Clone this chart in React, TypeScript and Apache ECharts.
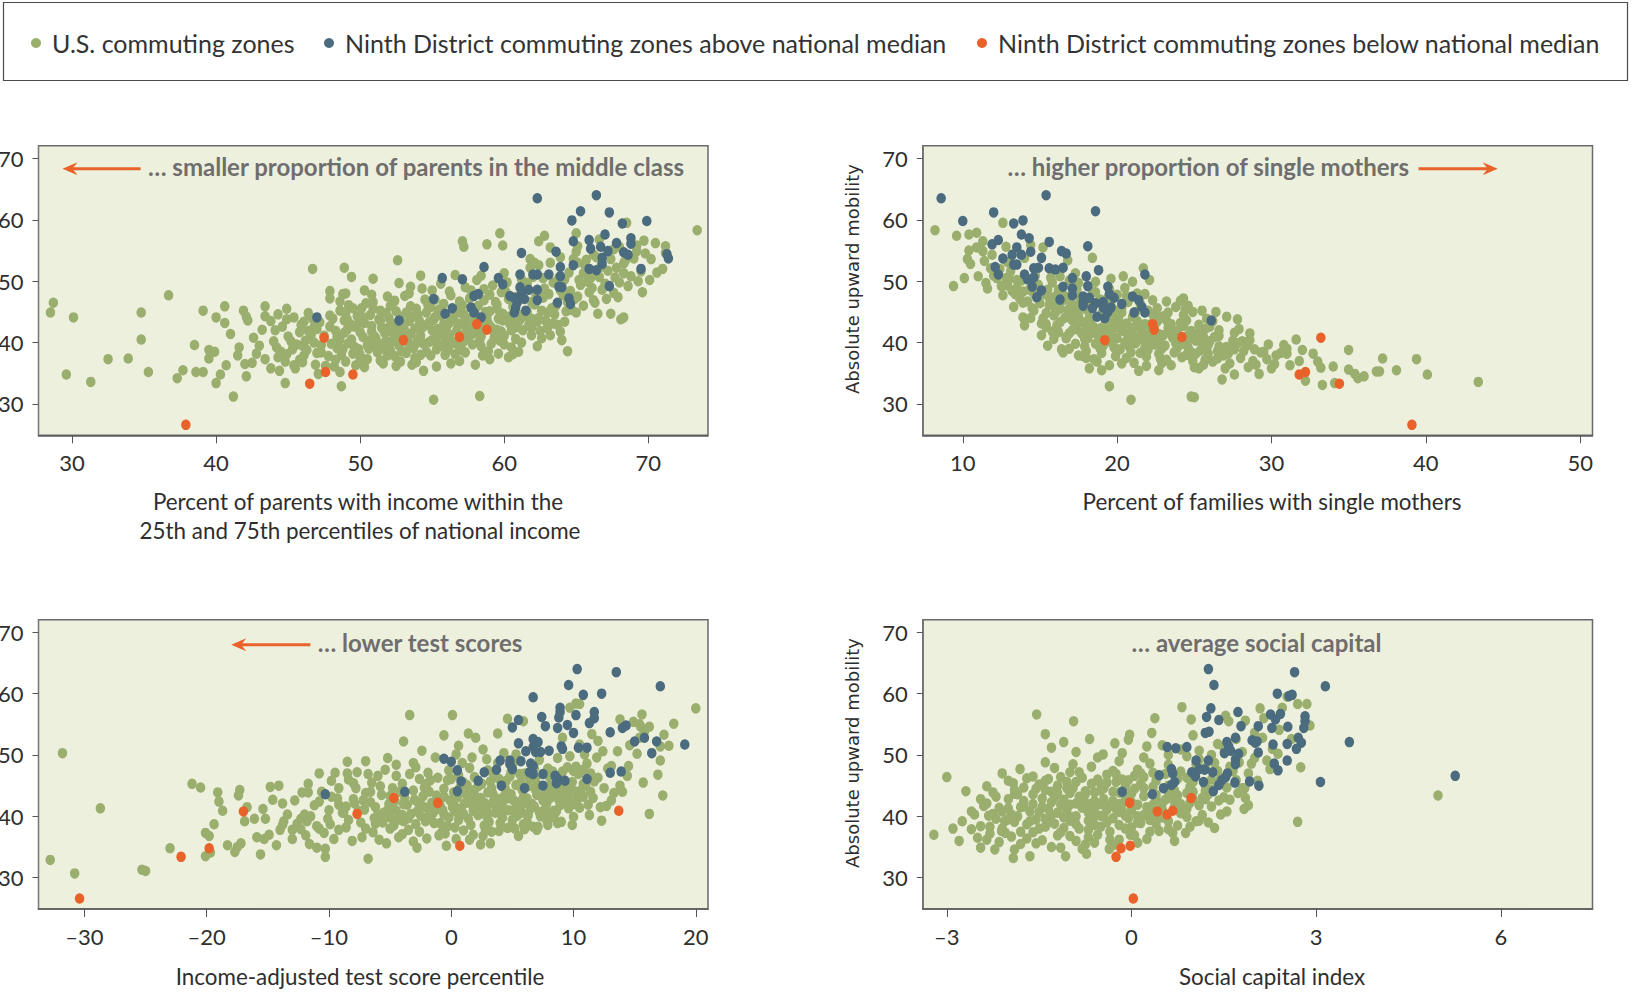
import React, { useEffect, useRef } from "react";
import * as echarts from "echarts";

const US = "U.S. commuting zones";
const ABOVE = "Ninth District commuting zones above national median";
const BELOW = "Ninth District commuting zones below national median";

const yTicks = [30, 40, 50, 60, 70];
const parentsTicks = [30, 40, 50, 60, 70];
const mothersTicks = [10, 20, 30, 40, 50];
const testTicks = [-30, -20, -10, 0, 10, 20];
const socialTicks = [-3, 0, 3, 6];

const parentsUS: number[][] = [
  [28.5,44.9],[28.7,46.5],[29.6,34.8],[30.1,44.1],[31.3,33.6],[32.5,37.3],[33.9,37.4],[34.8,44.9],[34.8,40.5],[35.3,35.2],[36.7,47.7],[37.3,34.2],[37.7,35.5],[38.5,39.6],[38.6,35.2],[39.1,45.2],[39.1,35.2],[39.5,38.8],[39.5,37.4],[39.9,38.5],[40.0,44.1],[40.0,33.4],[40.6,45.9],[40.6,43.2],[40.3,34.8],[40.7,36.3],[41.2,31.2],[41.5,37.9],[41.9,45.2],[42.1,44.2],[42.2,43.6],[42.0,36.5],[42.1,34.5],[42.5,36.7],[42.8,38.2],[43.4,45.9],[43.4,44.3],[43.2,42.1],[43.4,37.3],[43.8,43.5],[44.1,42.0],[44.3,44.6],[44.9,45.5],[44.9,43.8],[45.4,44.1],[44.2,39.2],[44.3,37.6],[43.8,35.8],[44.4,35.4],[44.8,33.4],[45.4,36.3],[46.1,43.4],[46.4,41.9],[46.0,39.5],[46.7,52.0],[47.9,48.4],[47.9,47.2],[48.9,52.2],[49.4,50.7],[48.8,47.9],[49.0,48.0],[48.6,35.2],[48.7,32.9],[48.6,45.2],[50.3,48.5],[50.8,47.8],[50.9,50.4],[52.6,53.4],[52.7,49.7],[53.5,49.1],[54.2,50.9],[54.3,48.8],[54.4,35.4],[55.1,30.7],[57.1,56.5],[57.2,55.6],[58.3,31.3],[58.8,56.0],[59.7,57.8],[59.9,55.8],[59.0,37.3],[60.3,37.6],[60.5,39.2],[60.0,39.7],[62.8,57.4],[62.4,56.5],[63.2,55.5],[62.4,52.6],[61.8,53.6],[64.0,40.4],[64.4,38.6],[63.2,41.2],[61.9,41.2],[61.9,42.4],[65.0,57.8],[65.0,54.8],[65.0,44.9],[65.2,50.2],[66.5,44.7],[66.3,46.5],[67.1,47.1],[67.4,44.7],[68.1,43.8],[68.3,44.1],[68.5,59.5],[69.7,56.6],[69.2,54.9],[69.0,53.7],[69.6,48.2],[70.1,50.2],[71.0,52.0],[71.2,55.7],[71.2,54.6],[73.4,58.3],[68.3,52.9],[67.7,50.6],[67.8,52.2],[68.3,51.3],[65.9,48.2],[65.7,53.5],[66.2,54.3],
  [44.5,38.5],[45.2,40.2],[45.8,37.2],[46.3,38.8],[46.9,36.4],[47.3,39.6],[47.8,37.8],[45.5,35.8],[46.6,41.3],[47.9,42.6],[44.8,36.9],[48.2,36.1],[48.4,39.1],[47.1,34.9],[45.9,42.9],
  [48.6,40.4],[49.1,42.1],[49.5,38.2],[49.8,44.3],[50.2,40.9],[50.5,37.3],[50.8,42.7],[51.1,39.4],[51.4,45.2],[51.7,41.6],[51.9,37.9],[49.2,46.1],[50.1,45.6],[48.9,43.6],[50.6,39.0],[51.3,43.8],[49.7,36.3],[51.6,36.6],[48.7,38.0],[50.9,46.6],[51.0,41.0],[49.4,40.5],[50.3,43.2],[52.0,44.0],
  [52.3,40.2],[52.6,42.5],[52.9,38.6],[53.2,44.9],[53.5,41.4],[53.8,37.5],[54.1,43.6],[54.4,39.8],[54.7,46.2],[55.0,42.0],[55.3,38.9],[55.6,44.4],[55.9,40.7],[52.4,46.8],[53.1,47.6],[54.2,41.1],[55.2,47.0],[53.6,36.4],[52.8,36.9],[54.9,37.9],[55.8,43.0],[53.9,45.5],[52.1,38.7],[54.6,44.9],
  [56.2,41.3],[56.5,43.8],[56.8,39.6],[57.1,46.1],[57.4,42.4],[57.7,48.5],[58.0,44.6],[58.3,40.3],[58.6,46.9],[58.9,43.1],[59.2,49.3],[59.5,45.5],[59.8,41.8],[56.3,47.7],[57.3,38.4],[58.1,50.2],[59.0,47.8],[56.9,44.9],[59.6,43.9],[56.1,38.8],[57.8,41.4],[58.5,37.9],[59.3,40.7],
  [60.3,44.2],[60.6,46.8],[60.9,42.5],[61.3,48.9],[61.6,45.0],[62.0,50.7],[62.3,43.4],[62.7,47.3],[63.0,44.9],[63.4,49.8],[63.7,42.9],[64.1,47.7],[64.5,51.4],[60.2,49.8],[61.8,52.2],[62.5,41.9],[63.2,53.0],[64.3,45.1],[60.8,40.6],[61.1,43.7],
  [65.3,49.4],[65.6,52.6],[66.0,50.5],[66.4,53.9],[66.8,48.6],[67.2,51.7],[67.6,55.2],[68.0,49.8],[68.4,53.3],[68.8,50.8],[69.2,55.8],[65.1,55.7],[66.2,46.9],[67.9,47.4],[69.5,51.6],[70.2,53.6],[70.5,56.2],[66.6,56.8],[64.8,53.6],[67.4,53.6],
  [47.5,41.1],[48.1,43.9],[48.9,41.6],[49.6,39.3],[50.0,41.7],[50.7,44.5],[51.2,38.4],[51.8,40.3],[52.2,43.1],[52.7,39.5],[53.0,41.8],[53.4,43.5],[53.7,39.1],[54.0,40.6],[54.5,42.8],[54.8,40.1],[55.1,43.7],[55.4,41.2],[55.7,39.5],[56.0,42.6],[56.4,40.2],[56.7,45.3],[57.0,43.1],[57.5,40.9],[57.9,45.6],[58.2,42.1],[58.8,44.0],[59.1,42.5],[59.4,46.6],[59.9,44.7],[60.4,43.0],[60.7,45.4],[61.0,47.6],[61.5,44.3],[62.1,46.2],[62.6,45.2],[63.1,47.9],[63.6,46.0],[64.0,49.1],[64.6,48.4],[49.9,38.9],[51.5,42.4],[53.3,40.6],[54.9,45.8],[56.6,38.1],[58.4,39.4],[46.2,40.3],[47.0,38.3],[48.3,37.2],[52.5,45.1],[50.4,46.4],[55.5,45.4],[57.6,47.2],[60.1,48.3],[53.8,42.3],[51.9,41.9],[49.3,43.0],[46.8,42.5],[45.0,41.0],[56.3,36.6],
  [46.0,36.8],[47.6,36.2],[49.0,36.9],[50.3,36.0],[51.4,37.1],[52.5,36.2],[53.9,36.8],[55.3,36.1],[56.9,37.0],[58.0,36.4],[59.6,38.2],[61.0,38.5],
  [44.9,38.1],[46.1,37.9],[47.3,38.4],[48.8,38.9],[50.0,38.0],[51.5,39.0],[52.4,37.8],[53.2,38.3],[54.6,38.5],[55.9,38.0],[57.1,38.7],[58.9,38.6],[60.6,38.1],[62.3,39.4],
  [45.6,39.7],[46.8,40.0],[48.0,39.8],[49.2,39.9],[50.6,40.3],[51.6,39.8],[52.6,40.9],[53.9,39.9],[55.0,40.4],[56.2,39.5],[57.2,40.2],[58.4,41.0],[59.7,40.3],[61.2,40.0],[62.6,40.7],[63.9,41.8],
  [44.6,42.6],[45.8,41.7],[47.0,42.2],[48.3,41.9],[49.6,42.6],[50.8,41.8],[52.0,42.5],[53.1,42.0],[54.3,42.4],[55.4,42.2],[56.7,41.9],[57.9,42.6],[59.3,41.7],[60.5,42.0],[61.7,42.8],[63.0,42.3],[64.2,43.4],
  [46.7,43.9],[47.9,44.4],[49.1,43.8],[50.2,44.1],[51.4,43.5],[52.8,44.2],[54.0,44.6],[55.2,44.1],[56.4,44.3],[57.5,43.9],[58.7,45.0],[59.9,43.6],[61.1,44.5],[62.4,44.0],[63.5,44.6],[64.7,45.3],
  [49.5,45.6],[50.9,45.5],[52.1,46.0],[53.5,45.9],[54.5,47.0],[55.8,46.3],[56.9,46.7],[58.2,46.0],[59.5,46.2],[60.6,45.9],[61.9,46.6],[63.3,45.6],[64.4,46.6],[65.5,46.0],
  [51.9,47.5],[53.4,48.0],[55.0,48.5],[56.2,48.3],[57.3,49.0],[58.6,48.7],[59.8,48.2],[61.6,49.7],[62.8,48.8],[63.9,48.5],[65.1,47.5],[66.1,48.9],[67.0,49.6],
  [55.6,49.6],[56.6,51.0],[58.4,50.9],[60.0,51.3],[61.2,50.3],[62.7,50.5],[64.2,50.3],[65.5,51.3],[66.6,50.7],[67.6,48.1],[68.6,49.2],[69.3,50.0],[62.1,53.0],[63.9,53.9],[65.1,53.0],[68.0,55.6],[69.8,54.5],[70.6,51.4],
  [48.4,40.9],[49.0,44.9],[49.9,43.2],[50.5,39.6],[51.1,40.6],[51.8,44.8],[52.3,41.5],[52.9,43.0],[53.4,39.6],[54.2,38.0],[54.8,43.3],[55.3,40.0],[55.7,41.8],[56.2,43.2],[56.8,42.8],[57.3,41.5],[57.8,39.7],[58.1,43.6],[58.6,42.9],[59.1,39.8],[59.5,42.1],[60.0,41.1],[60.5,43.6],[61.3,42.0],[61.9,43.9],[62.9,43.5],[63.4,43.1],[64.9,47.1],[65.8,49.9],[66.7,52.3],[50.0,37.3],[52.0,39.6],[53.6,44.2],[55.4,44.9],[57.2,44.6],[59.0,45.1],[60.3,47.1],[62.2,47.9],[63.8,50.6],[47.2,43.3],[48.6,46.7],[46.4,44.8],[45.3,38.9],[44.0,40.2],[43.0,39.5],[42.6,40.8],[41.6,39.2],[41.0,41.4]
];
const parentsAbove: number[][] = [
  [62.3,63.5],[66.4,64.0],[65.3,61.4],[67.3,61.2],[64.7,59.9],[69.9,59.8],[68.2,59.4],[67.0,57.6],[64.8,56.5],[65.9,56.7],[68.8,57.0],[67.8,56.2],[68.8,56.1],[66.0,55.3],[66.7,55.6],[67.2,54.9],[63.6,54.8],[61.2,54.6],[68.3,54.7],[68.6,54.3],[71.3,54.4],[71.4,53.7],[66.8,53.8],[66.8,52.8],[58.6,52.3],[63.9,52.3],[64.8,52.6],[65.9,52.0],[66.4,51.8],[69.5,52.0],[61.1,51.1],[62.0,51.1],[63.1,51.1],[63.9,50.8],[62.3,51.1],[55.7,50.5],[57.1,50.3],[59.6,50.5],[59.9,49.5],[63.8,49.1],[64.0,49.0],[67.3,49.2],[61.1,49.0],[61.7,48.6],[62.3,48.6],[61.2,47.9],[58.2,47.9],[57.9,47.6],[60.4,47.6],[60.7,47.3],[55.1,47.1],[61.4,47.1],[62.3,46.9],[60.9,46.5],[63.7,46.5],[64.5,47.2],[64.6,46.3],[60.8,45.7],[61.5,45.2],[60.7,44.9],[56.4,45.6],[57.7,45.7],[57.9,44.9],[55.9,44.7],[58.4,44.1],[47.0,44.1],[52.7,43.6]
];
const parentsBelow: number[][] = [
  [37.9,26.6],[47.5,40.8],[47.6,35.2],[46.5,33.3],[49.5,34.8],[53.0,40.4],[56.9,40.9],[58.1,43.0],[58.8,42.1]
];

const mothersUS: number[][] = [
  [8.2,58.3],[9.4,49.2],[9.6,57.4],[10.1,50.5],[10.4,57.6],[10.9,57.9],[10.3,53.6],[10.5,52.8],[10.9,55.5],[11.3,54.9],[11.6,48.8],[11.4,53.3],[12.6,59.5],[12.0,50.9],[12.8,50.5],[13.0,50.3],[13.2,48.4],[13.4,47.9],[13.9,44.1],[14.0,42.8],[15.1,43.1],[15.2,43.9],[15.5,39.5],[15.8,41.8],[16.5,38.4],[16.7,40.7],[17.8,37.8],[18.0,37.5],[18.4,53.8],[19.0,35.5],[19.5,32.9],[20.9,30.7],[20.4,50.8],[21.7,52.1],[22.1,50.2],[21.4,35.4],[22.7,35.5],[24.8,31.2],[25.0,31.1],[24.3,47.2],[24.6,46.0],[24.9,45.0],[25.3,35.8],[26.6,42.0],[26.8,34.0],[27.8,43.8],[27.6,34.8],[28.1,40.2],[28.6,41.5],[28.6,40.4],[29.3,38.4],[29.2,34.9],[30.8,39.6],[31.6,40.5],[31.0,38.2],[32.7,38.2],[33.2,35.9],[32.2,33.8],[33.3,33.1],[35.0,38.8],[35.0,35.6],[35.4,34.9],[36.0,34.5],[35.6,34.2],[37.0,35.3],[36.8,35.3],[37.2,37.4],[38.1,35.5],[39.4,37.3],[40.1,34.8],[43.4,33.6],[34.1,33.4],[30.2,36.5],[31.8,37.0],
  [13.5,50.2],[13.9,48.3],[14.2,46.7],[14.6,45.2],[13.7,47.1],[14.9,49.4],[15.3,47.9],[15.6,46.1],[15.9,44.4],[16.2,48.6],[16.5,46.9],[16.8,45.3],[17.1,43.6],[17.4,42.2],[16.1,42.8],[15.4,43.0],[16.7,40.9],[17.6,47.2],[17.9,45.6],[18.2,44.0],[18.5,42.5],[18.8,41.0],[19.1,39.5],[17.3,39.8],[18.0,38.6],[19.4,43.7],[19.7,42.2],[20.0,40.7],[20.3,44.9],[20.6,43.1],[20.9,41.6],[21.2,39.9],[21.5,38.3],[19.9,37.8],[21.8,43.0],[22.1,41.3],[22.4,39.7],[22.7,38.2],[23.0,44.3],[23.3,42.4],[23.6,40.8],[23.9,39.1],[24.2,37.6],[22.9,36.7],[24.5,43.6],[24.8,41.9],[25.1,40.3],[25.4,38.7],[25.7,37.2],[26.0,42.6],[26.3,40.9],[26.6,39.4],[26.9,37.9],[27.3,36.6],[27.6,38.9],[28.0,37.5],[18.4,48.3],[19.6,46.0],[20.7,46.6],[21.1,36.7],[23.8,45.8],[18.7,36.9],[22.0,45.2],[16.4,38.9],[20.2,38.9],[21.6,41.8],[19.3,41.4],[22.6,43.4],[24.4,45.5],[25.8,43.9],[17.7,41.5],[15.1,41.2],[14.4,44.0],[13.3,45.8],[12.6,47.7],[12.2,50.5],[11.8,52.1],[11.5,49.7],[12.9,53.1],[14.0,53.8],[15.2,55.5],[15.7,50.6],[16.9,50.1],[17.5,49.7],[20.5,48.9],[21.3,48.0],[22.3,46.9],[24.1,46.8],[26.4,45.0],[28.4,40.1],[29.5,38.5],[30.3,37.9],[29.0,36.4],[27.1,44.2],
  [17.2,45.0],[17.8,43.3],[18.3,46.1],[18.6,39.8],[19.0,44.6],[19.2,42.9],[19.5,40.2],[19.8,45.3],[20.1,43.6],[20.4,41.9],[20.8,39.3],[21.0,44.2],[21.4,42.6],[21.7,40.4],[22.0,38.8],[22.2,42.0],[22.5,40.6],[22.8,37.4],[23.1,39.5],[23.4,41.7],[23.7,38.4],[24.0,40.0],[24.3,42.7],[24.6,39.2],[24.9,37.0],[25.2,41.4],[25.5,39.9],[25.9,38.2],[26.2,36.9],[26.8,39.0],[27.5,40.3],[28.2,38.6],[28.8,37.0],[19.0,38.3],[18.1,40.7],[17.5,44.4],[16.6,44.0],[16.0,46.0],[15.5,48.6],[14.8,47.3],[20.6,37.5],[21.9,37.7],[23.5,36.3],[25.0,36.0],[26.5,37.4],[30.0,35.8],[31.2,36.3],[18.9,47.0],[20.0,47.8],[22.6,45.6],
  [18.5,37.3],[20.3,36.6],[21.9,36.2],[23.2,37.2],[24.5,38.0],[25.6,36.4],[27.0,35.8],[28.5,36.0],[29.7,37.3],
  [16.9,39.0],[17.9,39.4],[18.9,39.0],[19.8,39.2],[20.9,38.4],[21.8,39.2],[22.9,39.0],[23.8,39.9],[24.8,38.4],[25.9,39.6],[27.1,39.3],[28.4,39.5],[29.8,39.7],[31.0,39.0],
  [15.9,40.6],[16.9,41.5],[17.9,40.6],[18.7,41.8],[19.7,41.1],[20.7,40.7],[21.6,41.2],[22.7,41.4],[23.7,40.6],[24.6,41.2],[25.6,40.9],[26.6,41.1],[27.6,41.6],[17.1,42.0],
  [15.4,42.5],[16.3,43.3],[17.3,42.9],[18.3,43.0],[19.3,42.5],[20.4,42.7],[21.3,43.5],[22.2,43.0],[23.2,43.6],[24.1,43.2],[25.3,42.9],[26.2,43.5],[27.9,42.2],
  [14.5,45.6],[15.4,44.8],[16.3,45.5],[17.3,46.0],[18.1,45.2],[19.1,45.2],[20.1,44.4],[21.2,45.0],[22.3,44.6],[23.3,44.9],[24.3,44.5],[25.5,45.2],
  [13.9,46.5],[14.6,48.0],[15.6,47.3],[16.6,47.6],[17.4,48.6],[18.6,48.2],[19.5,48.7],[20.6,47.6],[21.8,47.9],[23.2,46.7],
  [12.9,49.3],[13.8,50.1],[14.7,50.9],[15.8,49.8],[16.3,50.8],[17.3,51.3],[18.6,49.9],[19.6,50.4],[21.0,49.9],[12.4,52.0],[13.1,51.6],[11.0,50.8],[11.9,54.3],[12.8,55.6],[14.4,55.9],[16.8,53.4],[10.4,55.0],[11.3,56.5],
  [16.0,44.9],[17.0,44.7],[17.6,45.9],[18.4,41.6],[18.9,42.3],[19.3,40.6],[19.9,43.0],[20.2,42.2],[20.5,40.0],[21.0,42.4],[21.2,41.0],[21.9,40.1],[22.4,42.6],[22.8,40.0],[23.0,41.2],[23.5,43.0],[23.9,41.9],[24.3,39.8],[24.7,40.6],[25.1,38.2],[25.7,42.2],[26.0,40.2],[26.5,38.6],[27.2,38.2],[27.8,39.9],[28.9,38.9],[30.6,38.3],[32.0,38.8],[33.0,36.9],[34.0,36.1],[19.4,47.3],[20.3,45.6],[21.5,46.3],[22.8,44.1],[15.0,46.4],[16.0,47.5],[17.0,46.4],[14.3,48.6],[13.5,48.9],[12.5,49.2],[19.7,44.5],[18.0,42.2],[16.2,41.7],[17.5,37.9],[19.5,36.3],[18.2,35.8]
];
const mothersAbove: number[][] = [
  [8.6,63.5],[15.4,64.0],[10.0,59.8],[12.0,61.2],[18.6,61.4],[13.3,59.4],[13.9,59.9],[13.8,57.6],[14.3,57.0],[15.6,56.4],[11.9,56.0],[12.3,56.7],[18.1,55.7],[13.5,55.5],[14.4,54.8],[16.4,54.9],[16.7,54.5],[13.2,54.3],[12.6,53.7],[13.8,54.3],[15.1,53.8],[13.3,52.7],[13.5,52.7],[12.1,52.3],[12.3,51.1],[14.6,52.1],[14.9,52.2],[15.6,52.1],[16.0,51.9],[16.5,52.2],[14.0,51.1],[14.2,50.3],[14.6,50.6],[18.8,51.8],[21.8,51.1],[17.1,50.5],[18.0,50.8],[18.1,49.2],[14.5,49.1],[16.5,49.1],[17.1,48.8],[19.4,49.1],[15.1,48.5],[14.8,47.4],[16.3,47.0],[17.1,47.7],[17.8,47.5],[18.2,47.3],[19.5,47.9],[19.8,47.3],[17.8,46.6],[18.6,46.4],[19.1,46.6],[21.0,47.5],[21.4,46.9],[20.3,46.3],[17.8,46.0],[18.4,45.6],[19.1,45.7],[19.6,45.7],[21.6,45.8],[21.1,44.9],[21.8,44.9],[19.4,45.0],[18.7,44.2],[19.2,44.0],[26.1,43.6]
];
const mothersBelow: number[][] = [
  [19.2,40.4],[22.3,43.0],[22.4,42.1],[24.2,40.9],[33.2,40.8],[31.8,34.8],[32.2,35.2],[34.4,33.3],[39.1,26.6]
];

const testUS: number[][] = [
  [-32.8,32.9],[-31.8,50.3],[-30.8,30.7],[-28.7,41.3],[-25.3,31.3],[-25.0,31.1],[-23.0,34.8],[-21.2,45.3],[-20.5,44.7],[-20.1,37.3],[-19.8,36.8],[-20.1,33.5],[-19.7,34.1],[-19.4,38.7],[-19.1,43.9],[-19.0,42.4],[-18.7,40.9],[-18.3,35.3],[-17.7,34.2],[-17.5,35.0],[-17.2,35.6],[-17.3,44.3],[-17.4,43.4],[-16.7,41.5],[-16.9,39.2],[-16.1,39.6],[-15.9,36.6],[-15.6,33.8],[-15.4,41.2],[-15.3,36.3],[-14.8,44.8],[-14.6,42.7],[-14.1,45.0],[-14.3,35.3],[-14.0,37.8],[-13.8,42.1],[-13.7,39.2],[-13.0,37.8],[-12.3,39.6],[-11.7,45.3],[-11.7,43.9],[-11.6,35.5],[-11.0,34.9],[-10.8,47.0],[-10.8,38.0],[-10.3,34.7],[-10.3,33.4],[-9.5,47.1],[-8.5,48.9],[-7.7,47.2],[-7.0,49.0],[-6.8,33.1],[-5.2,49.5],[-3.9,52.2],[-3.4,56.5],[-3.1,48.7],[-2.8,34.9],[-2.4,50.7],[-0.6,53.2],[0.1,56.5],[0.6,51.5],[1.4,53.5],[2.0,52.8],[2.4,35.4],[3.2,35.6],[2.6,50.9],[3.8,53.5],[4.6,55.9],[5.9,55.5],[6.7,38.3],[7.9,38.6],[7.9,39.6],[8.4,40.9],[9.0,39.1],[9.0,43.8],[9.6,43.3],[10.0,39.9],[10.3,42.7],[10.0,47.4],[10.8,45.3],[11.4,44.0],[9.7,57.7],[10.2,58.4],[10.5,51.7],[10.5,58.3],[11.9,49.6],[12.7,41.7],[13.3,43.8],[13.8,45.0],[14.0,44.0],[13.1,48.2],[14.5,48.2],[14.9,55.4],[15.4,55.0],[15.6,56.6],[15.5,54.6],[16.2,40.4],[17.1,51.4],[17.3,43.4],[17.4,53.3],[20.0,57.6],[15.4,52.8],
  [-11.2,41.8],[-10.1,39.6],[-9.3,42.9],[-8.6,38.2],[-7.8,44.6],[-7.1,41.1],[-6.4,37.4],[-5.7,43.5],[-5.0,39.8],[-4.3,36.6],[-3.6,41.9],[-2.9,38.7],[-2.2,44.7],[-1.5,40.5],[-0.8,37.3],[-0.1,42.6],[0.6,39.4],[1.3,45.1],[2.0,41.6],[2.7,38.5],[3.4,43.7],[4.1,40.2],[4.8,46.5],[5.5,42.3],[6.2,39.1],[6.9,44.3],[7.6,41.0],[8.3,47.3],[9.0,45.2],[9.7,49.8],[10.4,46.9],[11.1,48.6],[-9.8,45.8],[-8.1,36.0],[-6.8,46.9],[-5.3,35.6],[-4.0,45.3],[-3.1,35.9],[-1.9,47.1],[-0.4,35.2],[0.9,48.7],[1.8,37.0],[3.0,47.5],[3.9,37.6],[5.1,48.8],[6.0,37.9],[7.2,49.2],[-12.6,38.8],[-13.4,40.3],[-14.9,37.0],[-11.9,36.9],[-10.6,44.0],[1.1,42.1],[2.4,43.0],[3.6,41.8],[4.4,44.5],[5.8,40.6],[6.6,42.0],[7.9,43.6],[0.3,40.8],[-1.2,43.4],[-2.5,40.1],[-3.9,39.2],[-6.0,40.3],[-7.4,39.0],[-8.9,40.6],[8.7,38.9],[10.1,44.1],[11.7,45.7],[12.4,50.6],[4.6,42.9],[2.9,40.0],[1.6,44.1],[-0.6,44.5],[-2.7,42.2],[-4.6,42.5],[0.0,46.1],[3.2,45.7],[5.3,45.1],[6.4,46.2],[9.3,42.4],[8.1,45.1],
  [-4.5,40.9],[-3.8,43.0],[-3.3,40.4],[-2.6,37.5],[-2.0,41.4],[-1.4,38.9],[-0.9,41.7],[-0.3,38.4],[0.2,43.9],[0.8,41.3],[1.4,39.6],[1.9,43.4],[2.5,41.1],[3.1,39.1],[3.7,42.9],[4.2,41.6],[4.9,43.6],[5.4,40.1],[5.9,43.1],[6.5,41.3],[7.0,45.1],[7.5,42.6],[8.0,40.5],[8.5,44.0],[9.1,47.3],[9.6,44.7],[10.2,48.1],[10.8,43.2],[11.4,47.0],[12.0,46.3],[2.2,44.9],[3.3,44.6],[4.5,45.8],[5.6,46.9],[6.8,47.8],[-1.7,45.9],[-3.4,46.9],[-5.4,47.6],[-6.6,44.0],[-7.9,42.1],[-9.2,37.8],[-10.4,37.3],[-12.0,40.3],[-13.0,36.3],[-6.2,38.8],[-5.0,38.0],[-4.2,44.0],[1.0,37.7],[2.6,36.8],[4.0,38.9],[5.2,38.0],[6.3,44.9],[7.8,39.4],[-0.2,47.5],[1.5,47.9],[3.8,48.7],[8.9,41.8],[0.4,36.3],[-1.0,36.9],[-8.4,46.0],
  [-9.6,36.3],[-7.3,36.6],[-5.9,36.2],[-4.0,37.1],[-2.0,36.4],[-0.5,37.2],[1.5,36.2],[3.3,37.5],[5.5,36.8],[7.0,37.8],
  [-12.3,37.9],[-11.0,38.4],[-9.9,38.7],[-8.4,39.4],[-7.0,38.0],[-5.6,39.0],[-4.7,38.5],[-3.5,37.8],[-2.1,39.2],[-0.9,38.9],[0.3,38.2],[1.6,38.6],[2.8,37.8],[4.6,38.1],[5.9,38.7],[7.1,38.3],[8.4,39.8],[9.9,38.6],[11.3,40.2],
  [-11.5,40.0],[-10.0,41.0],[-8.8,40.6],[-7.6,40.9],[-6.2,41.5],[-5.2,41.0],[-4.0,40.2],[-2.8,40.8],[-1.8,40.1],[-0.6,40.3],[0.6,40.5],[1.8,40.9],[3.0,40.4],[4.2,39.8],[5.1,41.0],[6.3,40.2],[7.3,40.0],[8.6,40.8],[10.5,41.4],[12.2,41.5],
  [-12.8,42.6],[-9.2,41.9],[-8.0,42.8],[-6.6,42.3],[-5.1,42.0],[-3.9,42.0],[-2.3,43.3],[-1.0,42.6],[0.2,42.0],[1.4,42.6],[2.7,42.2],[4.0,42.4],[5.1,42.6],[6.2,42.9],[7.4,43.3],[8.8,42.7],[10.0,42.0],[11.6,43.0],
  [-9.2,44.6],[-7.0,43.8],[-5.8,44.9],[-4.8,44.6],[-3.1,44.2],[-1.8,44.0],[-0.6,43.2],[0.7,44.6],[1.9,44.3],[3.0,43.9],[4.5,44.0],[5.8,44.3],[7.0,43.5],[8.4,44.7],[9.9,45.6],[11.0,45.0],[12.5,44.6],
  [-8.5,47.0],[-6.0,46.6],[-4.5,46.6],[-2.6,46.1],[-1.1,46.3],[0.6,46.7],[1.9,46.4],[3.5,46.6],[4.9,47.3],[6.0,47.0],[7.9,47.8],[9.5,48.0],[10.8,47.6],[12.8,47.8],
  [-4.5,48.4],[-2.9,48.0],[-1.3,49.6],[0.4,50.1],[1.7,49.6],[2.9,49.3],[4.3,50.3],[5.3,50.1],[8.7,49.5],[10.9,50.1],[12.0,52.3],[13.6,50.6],[14.6,51.6],[15.2,50.2],[15.8,53.8],[11.5,53.4],[9.1,52.8],[13.8,55.8],[16.2,54.6],[17.8,51.5],[17.1,49.1],[14.4,46.6],[15.7,45.5],[13.1,42.6],[12.3,39.3],[16.9,46.8],[18.2,55.1],
  [-9.8,43.2],[-8.6,41.6],[-7.2,42.6],[-6.3,39.7],[-5.5,40.6],[-4.9,41.7],[-4.4,39.4],[-3.5,39.7],[-3.0,42.7],[-2.4,41.7],[-1.6,42.2],[-1.3,41.0],[-0.7,41.0],[-0.2,39.8],[0.1,41.5],[0.5,43.1],[1.0,40.4],[1.2,43.6],[1.7,41.9],[2.2,40.2],[2.3,42.7],[2.9,41.6],[3.4,42.3],[3.6,40.6],[4.3,43.2],[4.7,41.0],[5.0,39.4],[5.6,41.6],[6.0,42.2],[6.8,41.6],[7.2,40.7],[7.8,42.0],[8.1,43.0],[9.4,43.4],[9.6,41.3],[10.6,44.2],[11.2,41.9],[-10.8,42.4],[-11.8,39.2],[-12.2,43.9],[-13.8,38.6],[-15.2,39.6],[-8.0,45.4],[-6.5,45.5],[-5.0,43.3],[-2.0,45.3],[-0.3,45.9],[1.0,45.5],[2.5,45.3],[3.9,46.1],[5.7,45.5],[6.9,46.1],[8.0,46.5],[9.0,46.7]
];
const testAbove: number[][] = [
  [10.3,64.0],[13.5,63.5],[9.6,61.4],[10.8,59.8],[12.3,60.0],[17.1,61.2],[6.7,59.4],[8.9,57.7],[8.9,57.0],[8.8,56.1],[11.7,57.0],[11.7,56.0],[11.3,55.2],[10.2,56.5],[9.5,54.9],[7.4,56.2],[5.5,55.7],[5.0,54.5],[7.7,54.7],[8.7,54.4],[10.0,53.6],[13.0,53.7],[14.0,54.4],[14.3,54.8],[15.0,52.2],[15.8,52.8],[16.8,52.2],[19.1,51.7],[16.4,50.3],[5.5,51.9],[6.7,52.6],[7.1,52.1],[6.1,50.6],[6.7,51.3],[6.9,50.5],[7.3,50.5],[9.0,51.4],[9.1,51.0],[8.0,50.7],[10.4,51.2],[11.1,51.2],[4.8,49.1],[4.8,48.5],[4.0,49.1],[5.0,47.7],[5.7,49.0],[6.5,48.6],[6.7,48.2],[-0.6,49.4],[0.0,48.9],[0.5,47.5],[2.7,47.2],[3.7,47.6],[6.4,47.2],[6.7,46.9],[7.5,46.9],[8.5,46.6],[8.7,46.1],[9.3,45.8],[8.6,45.4],[7.5,45.0],[6.0,44.6],[2.2,45.8],[0.8,45.7],[4.1,45.0],[11.1,46.1],[13.0,47.1],[13.9,47.3],[0.5,44.1],[-3.8,44.0],[-10.3,43.6]
];
const testBelow: number[][] = [
  [-30.4,26.6],[-22.1,33.4],[-19.8,34.8],[-17.0,40.8],[-7.7,40.4],[-4.7,43.0],[-1.1,42.2],[0.7,35.2],[13.7,40.9]
];

const socialUS: number[][] = [
  [-3.21,37.0],[-3.0,46.4],[-2.69,44.1],[-2.45,34.9],[-2.35,44.9],[-2.32,40.1],[-2.25,40.4],[-2.22,34.6],[-2.15,41.4],[-2.11,37.6],[-2.1,47.0],[-2.06,39.2],[-1.92,45.4],[-1.92,33.2],[-1.9,43.7],[-1.81,47.7],[-1.65,33.5],[-1.54,56.6],[-1.4,53.4],[-1.1,52.1],[-1.07,33.5],[-0.94,55.5],[-0.68,52.6],[-0.46,50.1],[-0.27,51.9],[-0.03,53.3],[-0.05,52.5],[0.33,53.6],[0.38,56.0],[0.82,57.8],[0.97,55.8],[1.53,56.4],[1.58,55.5],[2.09,57.6],[2.7,58.3],[2.9,54.8],[2.53,59.5],[2.75,48.0],[2.7,39.1],[1.83,41.2],[1.73,43.8],[1.84,44.6],[1.42,42.6],[1.1,39.3],[0.88,37.3],[0.67,37.3],[4.98,43.4],[-0.02,37.0],[-0.36,34.7],[-0.73,33.9],[2.13,52.8],[2.29,51.0],[2.38,50.2],[2.0,49.5],
  [-1.9,39.1],[-1.7,36.4],[-1.6,42.0],[-1.5,38.0],[-1.4,44.3],[-1.3,40.2],[-1.2,36.9],[-1.1,42.7],[-1.0,39.3],[-0.9,45.6],[-0.8,41.4],[-0.7,37.8],[-0.6,43.9],[-0.5,40.1],[-0.4,46.8],[-0.3,42.5],[-0.2,38.6],[-0.1,44.9],[0.0,41.0],[0.1,47.6],[0.2,43.3],[0.3,39.4],[0.4,45.8],[0.5,42.1],[0.6,48.4],[0.7,44.2],[0.8,40.5],[0.9,46.3],[1.0,42.8],[1.1,49.3],[1.2,45.0],[1.3,41.6],[1.4,47.4],[1.5,51.2],[1.6,48.1],[1.8,50.5],[-1.8,41.5],[-1.55,35.6],[-1.35,46.1],[-1.15,34.9],[-0.95,48.5],[-0.75,35.4],[-0.55,49.6],[-0.35,36.2],[-0.15,50.3],[0.05,36.9],[0.25,51.4],[0.45,37.6],[-2.0,42.8],[-1.75,44.7],[-1.25,38.8],[-0.85,43.2],[-0.65,39.9],[-0.45,44.6],[-0.25,41.2],[-0.05,39.7],[0.15,45.3],[0.35,41.9],[0.55,46.9],[0.75,38.5],[0.95,44.8],[1.25,43.6],[1.45,40.3],[1.7,45.9],[1.9,47.0],[2.2,49.1],[-2.3,38.3],[-1.45,42.9],[-1.05,41.0],[-0.7,42.0],[-0.3,44.0],[0.2,40.2],[0.65,42.9],[1.05,39.2],[1.35,38.1],[-2.5,36.5],[-2.05,37.3],[-1.65,40.8],[-0.5,38.3],[0.0,43.7],
  [-1.85,43.6],[-1.6,37.4],[-1.5,45.2],[-1.4,39.6],[-1.3,42.3],[-1.2,45.0],[-1.1,38.1],[-1.0,43.8],[-0.9,40.0],[-0.8,46.3],[-0.7,36.6],[-0.6,41.3],[-0.5,45.3],[-0.4,39.0],[-0.3,47.4],[-0.2,40.7],[-0.1,43.1],[0.0,38.2],[0.1,41.9],[0.2,46.4],[0.3,37.5],[0.4,43.5],[0.5,39.8],[0.6,45.0],[0.7,41.6],[0.8,47.3],[0.9,39.9],[1.0,45.6],[1.1,41.8],[1.2,47.9],[1.3,44.3],[1.45,46.2],[1.6,42.7],[1.75,48.8],[-1.95,40.3],[-1.7,38.7],[-1.35,41.2],[-1.05,40.3],[-0.75,44.1],[-0.45,42.8],[-0.15,46.0],[0.15,38.9],[0.45,40.9],[0.75,43.4],[1.05,48.5],[-2.2,39.6],[-2.4,41.7],[-2.6,37.9],[-2.15,35.8],[-1.9,34.6],[-1.6,46.5],[-1.25,47.9],[-0.9,36.0],[0.3,48.6],[0.6,50.0],[0.9,49.8],[1.3,50.0],[1.55,44.7],[-0.55,37.0],[0.1,35.7],
  [-2.35,36.2],[-1.95,36.7],[-1.45,36.1],[-1.0,36.8],[-0.6,35.7],[-0.2,36.2],[0.25,36.3],[0.7,36.0],[-2.8,36.0],
  [-2.45,38.4],[-2.1,38.0],[-1.8,37.5],[-1.4,38.3],[-1.15,37.4],[-0.85,38.0],[-0.6,38.6],[-0.35,37.5],[-0.1,38.0],[0.4,38.7],[0.6,37.9],[0.95,38.3],[1.25,39.0],[-2.75,39.2],
  [-2.55,40.3],[-2.1,40.8],[-1.85,40.0],[-1.55,39.5],[-1.2,40.6],[-0.95,39.9],[-0.7,40.6],[-0.45,40.0],[-0.15,40.9],[0.1,40.0],[0.4,39.6],[0.85,41.0],[1.15,40.2],[1.55,40.8],[1.9,41.8],
  [-2.35,42.1],[-2.0,41.3],[-1.75,42.5],[-1.45,41.5],[-1.15,41.9],[-0.9,42.1],[-0.6,42.5],[-0.35,41.7],[-0.1,42.4],[0.25,41.5],[0.55,42.7],[0.95,42.2],[1.2,42.8],[1.5,43.1],[1.85,43.0],
  [-2.25,43.9],[-1.9,44.3],[-1.6,43.6],[-1.3,44.0],[-1.05,44.6],[-0.75,43.6],[-0.5,44.2],[-0.2,43.9],[0.05,44.5],[0.35,44.8],[0.6,44.0],[0.9,43.8],[1.2,44.1],[1.4,45.4],[1.8,44.6],[2.05,45.8],
  [-2.0,45.8],[-1.7,46.2],[-1.15,46.4],[-0.85,47.2],[-0.55,46.0],[-0.25,45.6],[0.05,46.6],[0.35,47.1],[0.75,46.1],[1.0,47.0],[1.35,48.7],[1.65,47.4],[1.95,48.6],[2.25,47.7],
  [-1.4,48.8],[-1.0,47.2],[-0.65,48.1],[-0.2,49.0],[0.2,49.6],[0.5,51.6],[0.8,50.9],[1.1,50.7],[1.4,51.8],[1.7,52.6],[2.0,53.6],[2.4,54.1],[2.6,52.6],[1.85,55.6],[2.15,56.0],[2.45,57.7],[2.85,58.3],[1.0,53.2],[-0.9,50.5],[-1.3,51.2],
  [-2.0,39.5],[-1.75,41.6],[-1.65,39.2],[-1.5,40.7],[-1.35,39.0],[-1.25,43.1],[-1.1,39.8],[-1.0,41.9],[-0.9,38.7],[-0.8,42.8],[-0.7,39.3],[-0.6,40.0],[-0.5,42.0],[-0.4,41.1],[-0.3,39.7],[-0.2,42.0],[-0.1,40.1],[0.0,42.3],[0.1,39.0],[0.2,44.6],[0.3,40.8],[0.4,42.8],[0.5,41.1],[0.6,39.2],[0.7,43.0],[0.8,42.0],[0.9,41.2],[1.0,44.0],[1.15,43.0],[1.3,46.0],[-1.55,44.5],[-1.4,45.8],[-1.2,43.8],[-1.05,45.6],[-0.95,44.6],[-0.65,45.3],[-0.4,45.5],[-0.25,46.9],[-0.05,45.9],[0.15,47.0],[0.45,46.7],[-2.2,43.2],[-2.45,42.8],[-2.6,40.8],[-2.9,38.0],[-2.3,37.2],[-1.8,35.5],[-1.3,35.0],[-0.8,34.7],[-0.3,35.3]
];
const socialAbove: number[][] = [
  [1.25,64.0],[2.65,63.5],[1.34,61.4],[3.15,61.2],[2.37,60.0],[2.56,59.6],[2.61,59.8],[1.29,57.6],[1.73,57.0],[1.22,56.2],[1.42,55.7],[2.26,56.6],[2.42,56.7],[2.82,56.3],[2.82,55.5],[2.34,55.8],[1.78,54.7],[2.06,54.7],[2.28,54.4],[2.54,54.6],[2.8,54.4],[1.2,53.6],[1.26,53.8],[1.69,52.8],[1.96,52.4],[2.01,52.0],[2.04,52.2],[2.71,52.8],[3.54,52.1],[2.3,51.7],[2.53,51.8],[2.76,52.0],[2.68,51.0],[0.58,51.3],[0.72,51.1],[0.9,51.3],[1.55,52.1],[1.58,51.4],[1.61,50.7],[1.51,50.3],[1.74,50.2],[2.06,50.4],[1.05,49.1],[1.25,49.1],[1.69,49.3],[1.69,48.5],[2.32,48.6],[2.53,49.1],[2.38,47.5],[1.19,47.6],[1.32,47.2],[1.1,47.7],[0.98,47.2],[1.04,46.5],[1.17,45.6],[1.56,47.0],[1.53,46.4],[1.47,45.9],[1.68,45.5],[1.92,45.7],[2.07,45.0],[0.45,46.7],[0.65,47.7],[0.67,47.0],[0.7,45.6],[0.65,45.1],[0.52,44.6],[0.34,43.6],[-0.15,44.0],[1.33,44.1],[1.42,45.1],[3.07,45.6],[5.26,46.6]
];
const socialBelow: number[][] = [
  [0.03,26.6],[-0.25,33.4],[-0.17,34.8],[-0.02,35.2],[-0.03,42.2],[0.42,40.8],[0.58,40.3],[0.67,40.9],[0.97,43.0]
];

const GREEN = "#9aae6e";
const BLUE = "#4b6b7e";
const ORANGE = "#e8622a";
const BG = "#eef0de";
const FONT = "Lato";

function buildOption(): any {
  const grids = [
    { left: 38.5, top: 145.8, width: 669.5, height: 289.5 },
    { left: 922.8, top: 145.8, width: 669.7, height: 289.5 },
    { left: 38.5, top: 619.7, width: 669.5, height: 289.3 },
    { left: 922.8, top: 619.7, width: 669.7, height: 289.3 },
  ].map((g) => ({
    ...g,
    show: true,
    backgroundColor: BG,
    borderColor: "#6a6a6a",
    borderWidth: 1.5,
    containLabel: false,
    outerBoundsMode: "none",
  }));

  const xRanges = [
    [27.67, 74.15, parentsTicks],
    [7.41, 50.8, mothersTicks],
    [-33.76, 21.0, testTicks],
    [-3.39, 7.49, socialTicks],
  ] as any[];

  const xAxis = xRanges.map((r, i) => ({
    type: "value",
    gridIndex: i,
    min: r[0],
    max: r[1],
    axisLine: { show: true, onZero: false, lineStyle: { color: "#5a5a5a", width: 1.5 } },
    axisTick: { show: true, length: 8, customValues: r[2], lineStyle: { color: "#555" } },
    axisLabel: {
      customValues: r[2],
      margin: 16,
      fontSize: 22,
      fontFamily: FONT,
      color: "#2e2e2e",
      formatter: (v: number) => String(v).replace("-", "\u2013"),
    },
    splitLine: { show: false },
  }));

  const yAxis = [0, 1, 2, 3].map((i) => ({
    type: "value",
    gridIndex: i,
    min: 24.9,
    max: 72.05,
    axisLine: { show: true, onZero: false, lineStyle: { color: "#7a7a7a", width: 1 } },
    axisTick: { show: true, length: 6, customValues: yTicks, lineStyle: { color: "#555" } },
    axisLabel: {
      customValues: yTicks,
      margin: 15,
      fontSize: 22,
      fontFamily: FONT,
      color: "#2e2e2e",
    },
    splitLine: { show: false },
  }));

  const panels = [
    [parentsUS, parentsAbove, parentsBelow],
    [mothersUS, mothersAbove, mothersBelow],
    [testUS, testAbove, testBelow],
    [socialUS, socialAbove, socialBelow],
  ];
  const names = [US, ABOVE, BELOW];
  const colors = [GREEN, BLUE, ORANGE];
  const series: any[] = [];
  panels.forEach((p, gi) => {
    p.forEach((data, k) => {
      series.push({
        type: "scatter",
        name: names[k],
        data,
        xAxisIndex: gi,
        yAxisIndex: gi,
        symbol: "circle",
        symbolSize: [9.5, 10.5],
        itemStyle: { color: colors[k], opacity: 1 },
        z: 2 + k,
        silent: true,
        emphasis: { disabled: true },
      });
    });
  });

  const legendBase = {
    orient: "horizontal",
    top: 30,
    padding: 0,
    itemWidth: 10,
    itemHeight: 10,
    icon: "circle",
    selectedMode: false,
    textStyle: { fontSize: 25, fontFamily: FONT, color: "#333", padding: [0, 0, 0, 6], lineHeight: 26 },
  };
  const legend = [
    { ...legendBase, left: 31, data: [US] },
    { ...legendBase, left: 324, data: [ABOVE] },
    { ...legendBase, left: 977, data: [BELOW] },
  ];

  const titleStyle = (text: string, x: number, y: number) => ({
    type: "text",
    x,
    y,
    style: {
      text,
      fontSize: 22.4,
      fontFamily: FONT,
      fill: "#2e2e2e",
      textAlign: "center",
      textVerticalAlign: "middle",
    },
  });
  const noteStyle = (text: string, x: number, y: number, align: string) => ({
    type: "text",
    x,
    y,
    style: {
      text,
      fontSize: 24,
      fontWeight: "bold",
      fontFamily: FONT,
      fill: "#6e6e6e",
      textAlign: align,
      textVerticalAlign: "middle",
    },
  });
  const arrow = (x1: number, x2: number, y: number) => {
    const dir = x2 < x1 ? -1 : 1;
    const back = x2 - dir * 15;
    return [
      {
        type: "line",
        shape: { x1, y1: y, x2: x2 - dir * 8, y2: y },
        style: { stroke: ORANGE, lineWidth: 3 },
      },
      {
        type: "polygon",
        shape: {
          points: [
            [x2, y],
            [back, y - 6.5],
            [x2 - dir * 10, y],
            [back, y + 6.5],
          ],
        },
        style: { fill: ORANGE },
      },
    ];
  };
  const yTitle = (y: number) => ({
    type: "text",
    x: 852,
    y,
    rotation: Math.PI / 2,
    style: {
      text: "Absolute upward mobility",
      fontSize: 18,
      fontFamily: "DejaVu Sans",
      fill: "#2e2e2e",
      textAlign: "center",
      textVerticalAlign: "middle",
    },
  });

  const graphic = [
    {
      type: "rect",
      shape: { x: 3.5, y: 2.5, width: 1624, height: 78 },
      style: { fill: "none", stroke: "#4a4a4a", lineWidth: 1.2 },
      z: -1,
    },
    titleStyle("Percent of parents with income within the", 358, 501),
    titleStyle("25th and 75th percentiles of national income", 360, 530),
    titleStyle("Percent of families with single mothers", 1272, 501),
    titleStyle("Income-adjusted test score percentile", 360, 976),
    titleStyle("Social capital index", 1272, 976),
    yTitle(279),
    yTitle(753),
    noteStyle("\u2026 smaller proportion of parents in the middle class", 148, 166.6, "left"),
    ...arrow(140.6, 62.5, 168.7),
    noteStyle("\u2026 higher proportion of single mothers", 1409, 166.6, "right"),
    ...arrow(1418.5, 1497.7, 168.7),
    noteStyle("\u2026 lower test scores", 317.7, 642.6, "left"),
    ...arrow(310.4, 231.2, 644.7),
    noteStyle("\u2026 average social capital", 1256.5, 642.6, "center"),
  ];

  return {
    animation: false,
    backgroundColor: "#ffffff",
    grid: grids,
    xAxis,
    yAxis,
    legend,
    series,
    graphic,
  };
}

export default function App() {
  const ref = useRef<HTMLDivElement>(null);
  useEffect(() => {
    if (!ref.current) return;
    const chart = echarts.init(ref.current, null, { renderer: "svg" });
    chart.setOption(buildOption());
    return () => chart.dispose();
  }, []);
  return (
    <div
      ref={ref}
      style={{ position: "absolute", left: 0, top: 0, width: 1633, height: 994 }}
    />
  );
}
